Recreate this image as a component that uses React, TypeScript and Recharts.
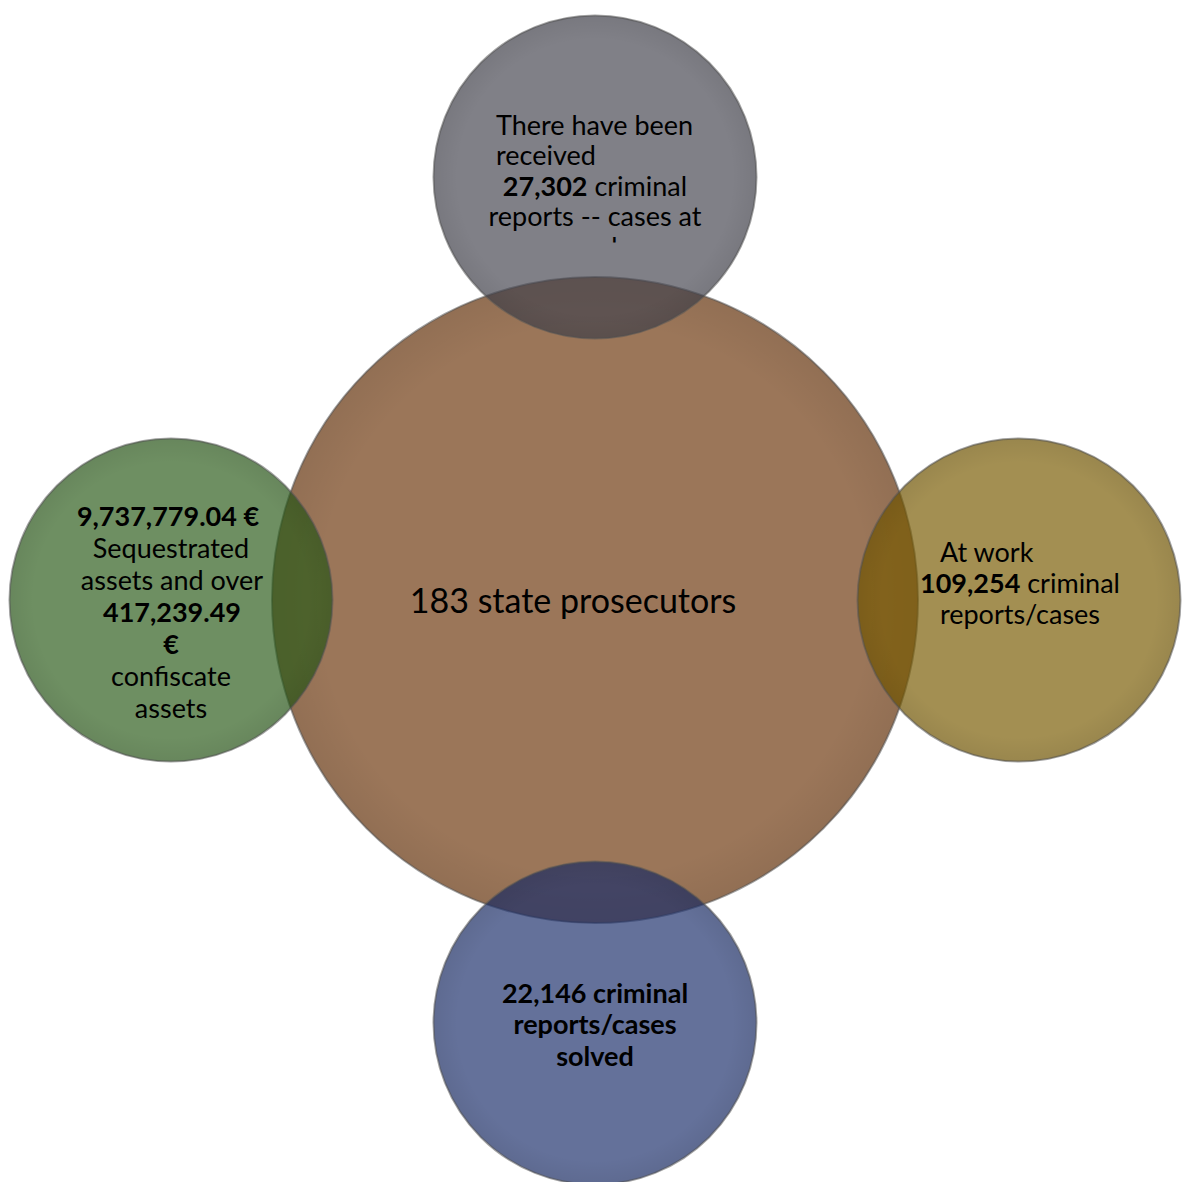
import React from 'react';
import { ScatterChart, Scatter, XAxis, YAxis, ZAxis } from 'recharts';

// ---- data ----
const nodeIds = ['center', 'top', 'right', 'bottom', 'left'];
const nodeX = [0, 0, 1, 0, -1];
const nodeY = [0, 1, 0, -1, 0];
const nodeArea = [100, 25, 25, 25, 25];

type Seg = { t: string; b?: boolean };
const centerLabel: Seg[][] = [[{ t: '183 state prosecutors' }]];
const topLabel: Seg[][] = [
  [{ t: 'There have been' }],
  [{ t: 'received' }],
  [{ t: '27,302', b: true }, { t: ' criminal' }],
  [{ t: 'reports -- cases at' }],
  [{ t: 'work' }],
];
const rightLabel: Seg[][] = [
  [{ t: 'At work' }],
  [{ t: '109,254', b: true }, { t: ' criminal' }],
  [{ t: 'reports/cases' }],
];
const bottomLabel: Seg[][] = [
  [{ t: '22,146 criminal', b: true }],
  [{ t: 'reports/cases', b: true }],
  [{ t: 'solved', b: true }],
];
const leftLabel: Seg[][] = [
  [{ t: '9,737,779.04 €', b: true }],
  [{ t: 'Sequestrated' }],
  [{ t: 'assets and over' }],
  [{ t: '417,239.49', b: true }],
  [{ t: '€', b: true }],
  [{ t: 'confiscate' }],
  [{ t: 'assets' }],
];
const labels = [centerLabel, topLabel, rightLabel, bottomLabel, leftLabel];

const data = nodeIds.map((id, i) => ({ id, x: nodeX[i], y: nodeY[i], z: nodeArea[i], idx: i }));

// ---- styles ----
const FONT = 'Lato, "Open Sans", sans-serif';
const fills = ['#9b7659', '#44444e', '#785a00', '#1a2e6a', '#2a5a18'];
const fillOpacity = [1, 0.68, 0.68, 0.68, 0.68];

type LineStyle = {
  fontSize: number;
  lineH: number;
  firstDy: number;
  anchors: ('start' | 'middle')[];
  dxs: number[];
  clipBottom?: number;
};
const lineStyles: LineStyle[] = [
  { fontSize: 34, lineH: 32, firstDy: 13, anchors: ['middle'], dxs: [-22] },
  {
    fontSize: 27,
    lineH: 30.5,
    firstDy: -42,
    anchors: ['start', 'start', 'middle', 'middle', 'middle'],
    dxs: [-99, -99, 0, 0, 0],
    clipBottom: 65.5,
  },
  { fontSize: 27, lineH: 31, firstDy: -38, anchors: ['start', 'middle', 'middle'], dxs: [-79, 1, 1] },
  { fontSize: 27, lineH: 31.5, firstDy: -20, anchors: ['middle', 'middle', 'middle'], dxs: [0, 0, 0] },
  {
    fontSize: 27,
    lineH: 32,
    firstDy: -74,
    anchors: ['middle', 'middle', 'middle', 'middle', 'middle', 'middle', 'middle'],
    dxs: [-3, 0, 1, 1, 0, 0, 0],
  },
];

const NodeShape = (props: any) => {
  const { cx, cy, size, payload } = props;
  const i: number = payload.idx;
  const r = Math.sqrt(size / Math.PI);
  const ls = lineStyles[i];
  const lines = labels[i];
  const clipId = `clip-${i}`;
  return (
    <g>
      <defs>
        <radialGradient id={`shade-${i}`} cx="50%" cy="50%" r="50%">
          <stop offset="85%" stopColor="#000" stopOpacity={0} />
          <stop offset="100%" stopColor="#000" stopOpacity={0.06} />
        </radialGradient>
        {ls.clipBottom !== undefined && (
          <clipPath id={clipId}>
            <rect x={cx - r} y={cy - r} width={2 * r} height={r + ls.clipBottom} />
          </clipPath>
        )}
      </defs>
      <circle
        cx={cx}
        cy={cy}
        r={r}
        fill={fills[i]}
        fillOpacity={fillOpacity[i]}
        stroke="rgba(85,85,85,0.55)"
        strokeWidth={2}
      />
      <circle cx={cx} cy={cy} r={r} fill={`url(#shade-${i})`} />
      <g clipPath={ls.clipBottom !== undefined ? `url(#${clipId})` : undefined}>
        {lines.map((segs, li) => (
          <text
            key={li}
            x={cx + ls.dxs[li]}
            y={cy + ls.firstDy + li * ls.lineH}
            textAnchor={ls.anchors[li]}
            fontFamily={FONT}
            fontSize={ls.fontSize}
            fill="#000"
            style={{ whiteSpace: 'pre' }}
          >
            {segs.map((s, si) => (
              <tspan key={si} fontWeight={s.b ? 700 : 400}>
                {s.t}
              </tspan>
            ))}
          </text>
        ))}
      </g>
    </g>
  );
};

export default function App() {
  return (
    <div style={{ position: 'absolute', left: 0, top: 0, width: 1182, height: 1182, background: '#fff' }}>
      <ScatterChart width={1182} height={1182} margin={{ top: 0, right: 0, bottom: 0, left: 0 }}>
        <XAxis type="number" dataKey="x" domain={[-1.4033, 1.3844]} allowDataOverflow hide />
        <YAxis type="number" dataKey="y" domain={[-1.3759, 1.4184]} allowDataOverflow hide />
        <ZAxis type="number" dataKey="z" domain={[0, 100]} range={[0, Math.PI * 323 * 323]} />
        <Scatter data={data} shape={NodeShape} isAnimationActive={false} />
      </ScatterChart>
    </div>
  );
}
